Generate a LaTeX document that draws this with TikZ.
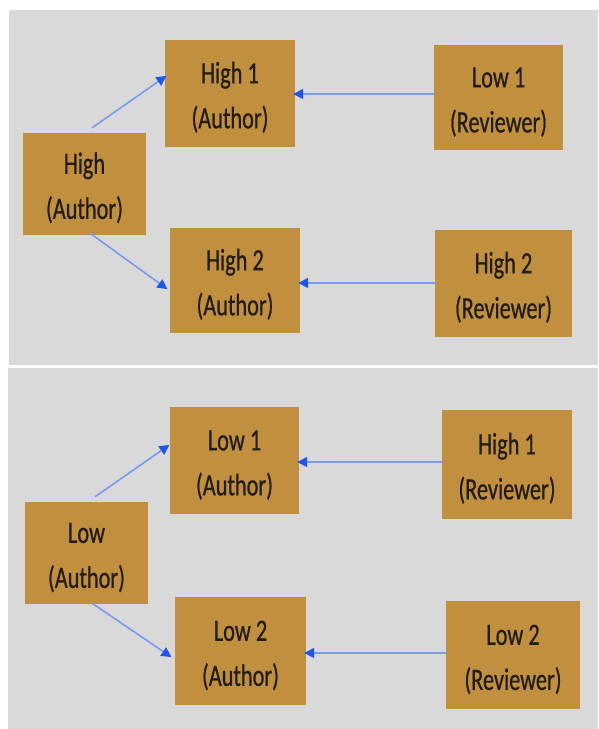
\documentclass[tikz,border=0pt]{standalone}
\usepackage{fontspec}
\newfontfamily\bxfont[FakeStretch=0.72,FakeBold=0.6]{Carlito}
\usetikzlibrary{arrows.meta}
\definecolor{panelgray}{HTML}{D9D9D9}
\definecolor{boxgold}{HTML}{C0903F}
\definecolor{linkblue}{HTML}{7A9AF0}
\definecolor{headblue}{HTML}{1E55F0}
\definecolor{txt}{HTML}{231C12}
\newcommand{\tstrut}{\rule{0pt}{29pt}}
\tikzset{
  bx/.style={fill=boxgold, draw=none, align=center, text=txt,
    font=\bxfont\fontsize{31}{45}\selectfont, inner sep=0pt},
  arr/.style={draw=linkblue, line width=1.6pt,
    -{Triangle[length=10pt,width=10pt,color=headblue]}, shorten >=-2pt},
  panel/.style={fill=panelgray, draw=none}
}
\begin{document}
\begin{tikzpicture}[x=1pt,y=-1pt]
\useasboundingbox (0,0) rectangle (598,729);
\fill[white] (0,0) rectangle (598,729);
\path[panel] (9,10) rectangle (598,365);
\path[panel] (8,368) rectangle (598,729);
% top panel
\node[bx, minimum width=123pt, minimum height=102pt] (hA) at (84.5,184) {\tstrut High\\(Author)};
\node[bx, minimum width=130pt, minimum height=107pt] (h1A) at (230,93.5) {\tstrut High 1\\(Author)};
\node[bx, minimum width=129pt, minimum height=105pt] (l1R) at (498.5,97.5) {\tstrut Low 1\\(Reviewer)};
\node[bx, minimum width=130pt, minimum height=105pt] (h2A) at (235,280.5) {\tstrut High 2\\(Author)};
\node[bx, minimum width=137pt, minimum height=107pt] (h2R) at (503.5,283.5) {\tstrut High 2\\(Reviewer)};
% bottom panel
\node[bx, minimum width=129pt, minimum height=107pt] (l1A) at (234.5,460.5) {\tstrut Low 1\\(Author)};
\node[bx, minimum width=130pt, minimum height=109pt] (h1R) at (507,464.5) {\tstrut High 1\\(Reviewer)};
\node[bx, minimum width=123pt, minimum height=102pt] (lA) at (86.5,553) {\tstrut Low\\(Author)};
\node[bx, minimum width=131pt, minimum height=108pt] (l2A) at (240.5,651) {\tstrut Low 2\\(Author)};
\node[bx, minimum width=134pt, minimum height=108pt] (l2R) at (513,655) {\tstrut Low 2\\(Reviewer)};
% connectors top
\draw[arr] ([shift={(7.5,-5)}]hA.north) -- ([shift={(0,-16.5)}]h1A.west);
\draw[arr] ([shift={(5.5,-2)}]hA.south) -- ([shift={(-4,7.5)}]h2A.west);
\draw[arr] ([shift={(0,-3.5)}]l1R.west) -- ([shift={(0,0.5)}]h1A.east);
\draw[arr] ([shift={(0,-0.5)}]h2R.west) -- ([shift={(0,2.5)}]h2A.east);
% connectors bottom
\draw[arr] ([shift={(8.5,-5)}]lA.north) -- ([shift={(-2,-14.5)}]l1A.west);
\draw[arr] ([shift={(5.5,-1)}]lA.south) -- ([shift={(-5,5)}]l2A.west);
\draw[arr] ([shift={(0,-2.5)}]h1R.west) -- ([shift={(0,1.5)}]l1A.east);
\draw[arr] ([shift={(0,-2)}]l2R.west) -- ([shift={(0,2)}]l2A.east);
\end{tikzpicture}
\end{document}
